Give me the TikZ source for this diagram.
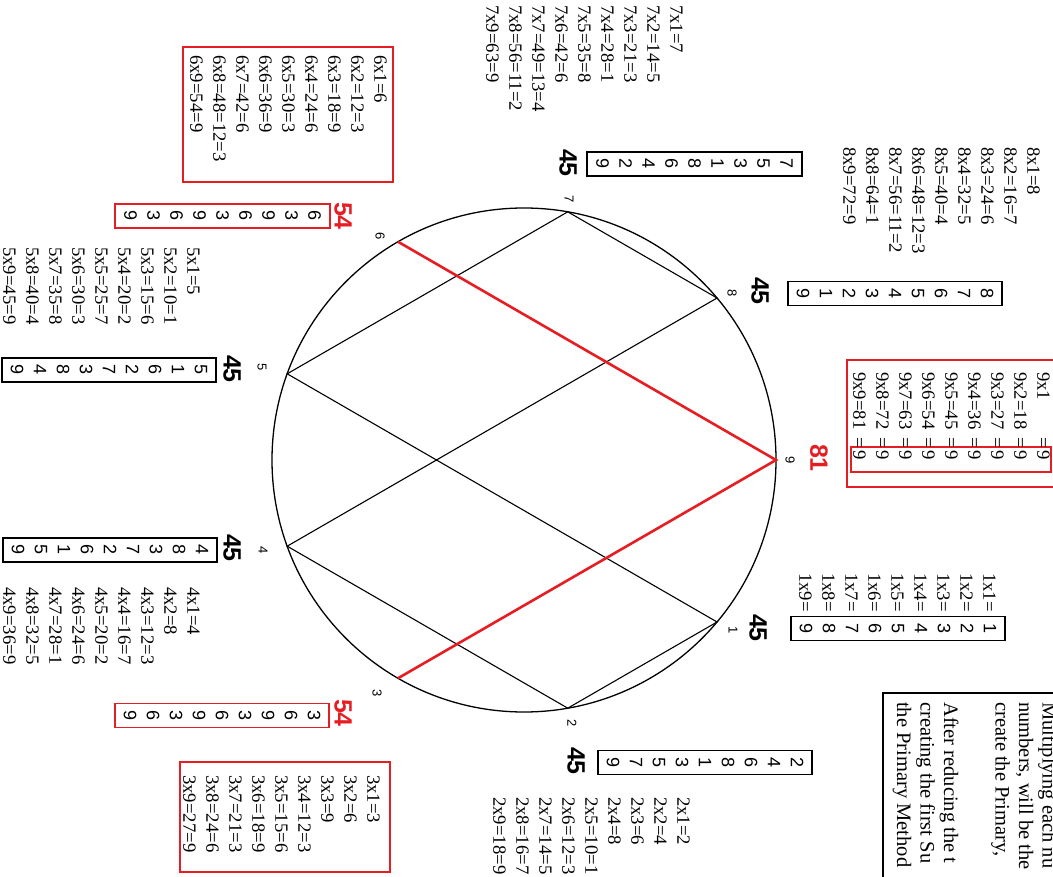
\documentclass[tikz,border=0pt]{standalone}
\usepackage{fontspec}
\setmainfont{Liberation Serif}
\newfontfamily\arialfont{Liberation Sans}
\definecolor{vred}{RGB}{230,30,36}
\newcommand{\tabfont}{\fontsize{18.7}{23}\selectfont}
\newcommand{\digfont}{\arialfont\fontsize{18}{23}\selectfont}
\newcommand{\sumfont}{\arialfont\bfseries\fontsize{25}{25}\selectfont}
\newcommand{\ptfont}{\arialfont\fontsize{13}{13}\selectfont}
\newcommand{\notefont}{\fontsize{20.5}{23.5}\selectfont}
\newcommand{\nine}[1]{\makebox[65pt][l]{#1}=\,9}
\tikzset{
	tab/.style={rotate=-90, anchor=north west, align=left, inner sep=0pt, font=\tabfont},
	digits/.style={rotate=-90, draw, line width=1.8pt, align=center, inner xsep=7pt, inner ysep=9pt, font=\digfont},
	sumlabel/.style={rotate=-90, inner sep=0pt, font=\sumfont},
	ptlabel/.style={rotate=-90, inner sep=0pt, font=\ptfont},
	redbox/.style={vred, line width=2.8pt},
}
\begin{document}
\begin{tikzpicture}[x=1pt, y=-1pt]
			\useasboundingbox (0,0) rectangle (1053,877);
			\clip (0,0) rectangle (1053,877);
			
			%Circle and its nine points
			\coordinate (c) at (524,460);
			\draw[line width=1.3pt] (c) circle (252pt);
			\foreach \n in {1,...,9}
				\path (c) ++({-40*\n}:252pt) coordinate (p\n);
			\foreach \n/\px/\py in {9/790/460, 8/732/293, 7/569/199, 6/380/236, 5/262/367, 4/263/550, 3/377/693, 2/572/723, 1/733/630}
				\node[ptlabel] (l\n) at (\px,\py) {\n};
			
			\draw[line width=1.1pt] (p1) -- (p2) -- (p4) -- (p8) -- (p7) -- (p5) -- cycle;
			\draw[vred, line width=2.6pt] (p6) -- (p9) -- (p3);
			
			%Group 9
			\draw[redbox] (847,360) rectangle (1062,487);
			\draw[redbox] (851,447) rectangle (1051,472);
			\node[tab] (t9) at (1050,372) {\nine{9x1}\\\nine{9x2=18}\\\nine{9x3=27}\\\nine{9x4=36}\\\nine{9x5=45}\\\nine{9x6=54}\\\nine{9x7=63}\\\nine{9x8=72}\\\nine{9x9=81}};
			\node[sumlabel, vred] (s9) at (819,458) {81};
			
			%Group 1
			\node[tab] (t1) at (996,573) {1x1=\\1x2=\\1x3=\\1x4=\\1x5=\\1x6=\\1x7=\\1x8=\\1x9=};
			\node[digits] (b1) at (898,628.5) {1\\2\\3\\4\\5\\6\\7\\8\\9};
			\node[sumlabel] (s1) at (758,628) {45};
			
			%Group 2
			\node[tab] (t2) at (690,797) {2x1=2\\2x2=4\\2x3=6\\2x4=8\\2x5=10=1\\2x6=12=3\\2x7=14=5\\2x8=16=7\\2x9=18=9};
			\node[digits] (b2) at (705,762.5) {2\\4\\6\\8\\1\\3\\5\\7\\9};
			\node[sumlabel] (s2) at (576,761) {45};
			
			%Group 3
			\draw[redbox] (180,762) rectangle (390,872);
			\node[tab] (t3) at (380,775) {3x1=3\\3x2=6\\3x3=9\\3x4=12=3\\3x5=15=6\\3x6=18=9\\3x7=21=3\\3x8=24=6\\3x9=27=9};
			\node[digits, vred] (b3) at (222,715.5) {\color{black}3\\\color{black}6\\\color{black}9\\\color{black}3\\\color{black}6\\\color{black}9\\\color{black}3\\\color{black}6\\\color{black}9};
			\node[sumlabel, vred] (s3) at (343,713) {54};
			
			%Group 4
			\node[tab] (t4) at (200,587) {4x1=4\\4x2=8\\4x3=12=3\\4x4=16=7\\4x5=20=2\\4x6=24=6\\4x7=28=1\\4x8=32=5\\4x9=36=9};
			\node[digits] (b4) at (110,550) {4\\8\\3\\7\\2\\6\\1\\5\\9};
			\node[sumlabel] (s4) at (232,548) {45};
			
			%Group 5
			\node[tab] (t5) at (200,247) {5x1=5\\5x2=10=1\\5x3=15=6\\5x4=20=2\\5x5=25=7\\5x6=30=3\\5x7=35=8\\5x8=40=4\\5x9=45=9};
			\node[digits] (b5) at (109,370) {5\\1\\6\\2\\7\\3\\8\\4\\9};
			\node[sumlabel] (s5) at (232,369) {45};
			
			%Group 6
			\draw[redbox] (183,47) rectangle (393,182);
			\node[tab] (t6) at (387,55) {6x1=6\\6x2=12=3\\6x3=18=9\\6x4=24=6\\6x5=30=3\\6x6=36=9\\6x7=42=6\\6x8=48=12=3\\6x9=54=9};
			\node[digits, vred] (b6) at (222.5,216) {\color{black}6\\\color{black}3\\\color{black}9\\\color{black}6\\\color{black}3\\\color{black}9\\\color{black}6\\\color{black}3\\\color{black}9};
			\node[sumlabel, vred] (s6) at (343,216) {54};
			
			%Group 7
			\node[tab] (t7) at (683,5) {7x1=7\\7x2=14=5\\7x3=21=3\\7x4=28=1\\7x5=35=8\\7x6=42=6\\7x7=49=13=4\\7x8=56=11=2\\7x9=63=9};
			\node[digits] (b7) at (694.5,164) {7\\5\\3\\1\\8\\6\\4\\2\\9};
			\node[sumlabel] (s7) at (568,163) {45};
			
			%Group 8
			\node[tab] (t8) at (1040,147) {8x1=8\\8x2=16=7\\8x3=24=6\\8x4=32=5\\8x5=40=4\\8x6=48=12=3\\8x7=56=11=2\\8x8=64=1\\8x9=72=9};
			\node[digits] (b8) at (895,293.5) {8\\7\\6\\5\\4\\3\\2\\1\\9};
			\node[sumlabel] (s8) at (760,291) {45};
			
			%Note box, cut by the page edge
			\draw[line width=2.5pt] (883,900) -- (883,693) -- (1070,693);
			\node[rotate=-90, anchor=north west, align=left, inner sep=0pt, font=\notefont] (note) at (1057,702) {Multiplying each nu\\numbers, will be the\\create the Primary,\\[28pt]After reducing the t\\creating the first Su\\the Primary Method};
		\end{tikzpicture}
\end{document}
